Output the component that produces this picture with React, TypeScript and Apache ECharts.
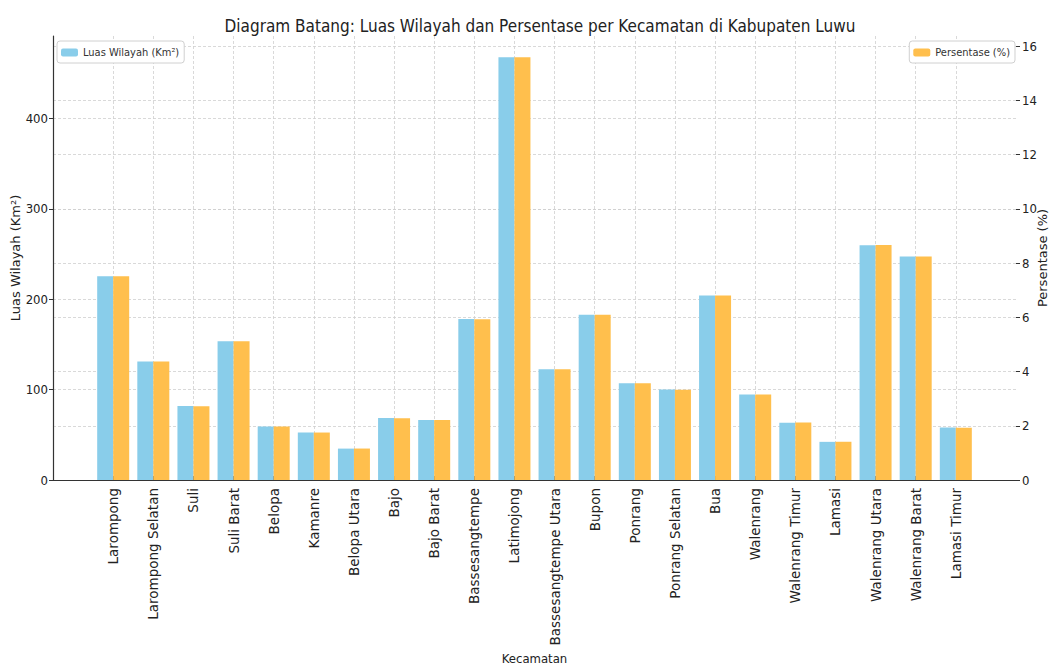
import React, { useEffect, useRef } from "react";
import * as echarts from "echarts";

const categories = [
  "Larompong", "Larompong Selatan", "Suli", "Suli Barat", "Belopa", "Kamanre",
  "Belopa Utara", "Bajo", "Bajo Barat", "Bassesangtempe", "Latimojong",
  "Bassesangtempe Utara", "Bupon", "Ponrang", "Ponrang Selatan", "Bua",
  "Walenrang", "Walenrang Timur", "Lamasi", "Walenrang Utara", "Walenrang Barat",
  "Lamasi Timur",
];

const luasWilayah = [
  225.25, 131.0, 81.75, 153.5, 59.18, 52.55, 34.73, 68.52, 66.3, 178.04, 467.75,
  122.4, 182.67, 107.09, 99.98, 204.01, 94.6, 63.46, 42.2, 259.77, 247.13, 57.98,
];

const persentase = [
  7.51, 4.37, 2.72, 5.12, 1.97, 1.75, 1.16, 2.28, 2.21, 5.93, 15.59,
  4.08, 6.09, 3.57, 3.33, 6.8, 3.15, 2.12, 1.41, 8.66, 8.24, 1.93,
];

const leftTicksMax = 491.14;
const rightTicksMax = 16.37;

const COND = "'DejaVu Sans Condensed', 'Liberation Sans Narrow', 'DejaVu Sans', sans-serif";
const REG = "'DejaVu Sans', sans-serif";

export default function App() {
  const ref = useRef<HTMLDivElement>(null);

  useEffect(() => {
    document.body.style.margin = "0";
    if (!ref.current) return;
    const chart = echarts.init(ref.current, null, { renderer: "svg" });

    // pad one empty slot on each side to reproduce the plot's side margins
    const xCats = ["", ...categories, ""];
    const luasData: (number | string)[] = ["-", ...luasWilayah, "-"];
    const pctData: (number | string)[] = ["-", ...persentase, "-"];
    const isReal = (i: number) => i > 0 && i < xCats.length - 1;

    const gridLine = { show: true, lineStyle: { color: "#cfcfcf", type: [3, 2] as any, width: 0.8 } };

    chart.setOption({
      animation: false,
      backgroundColor: "#ffffff",
      title: {
        text: "Diagram Batang: Luas Wilayah dan Persentase per Kecamatan di Kabupaten Luwu",
        left: 535,
        textAlign: "center",
        top: 12,
        textStyle: { fontFamily: COND, fontSize: 17, fontWeight: "normal", color: "#222" },
      },
      legend: [
        {
          data: ["Luas Wilayah (Km²)"],
          left: 57,
          top: 41,
          padding: [6, 5, 5, 4],
          itemWidth: 17,
          itemHeight: 8,
          borderColor: "#d0d0d0",
          borderWidth: 1,
          borderRadius: 3,
          backgroundColor: "#fff",
          textStyle: { fontFamily: COND, fontSize: 11, color: "#333" },
        },
        {
          data: ["Persentase (%)"],
          right: 37,
          top: 41,
          padding: [6, 5, 5, 4],
          itemWidth: 17,
          itemHeight: 8,
          borderColor: "#d0d0d0",
          borderWidth: 1,
          borderRadius: 3,
          backgroundColor: "#fff",
          textStyle: { fontFamily: COND, fontSize: 11, color: "#333" },
        },
      ],
      grid: { left: 53, right: 36, top: 36, bottom: 187, containLabel: false, outerBoundsMode: "none" } as any,
      xAxis: {
        type: "category",
        data: xCats,
        name: "Kecamatan",
        nameLocation: "middle",
        nameGap: 172,
        nameMoveOverlap: false,
        nameTextStyle: { fontFamily: COND, fontSize: 13, color: "#222" },
        axisLine: { show: true, lineStyle: { color: "#333", width: 1.2 } },
        axisTick: {
          show: true,
          alignWithLabel: true,
          inside: true,
          length: 4,
          interval: (i: number) => isReal(i),
          lineStyle: { color: "#333" },
        },
        axisLabel: {
          rotate: 90,
          interval: (i: number) => isReal(i),
          fontFamily: REG,
          fontSize: 13.5,
          color: "#222",
          margin: 8,
        },
        splitLine: { ...gridLine, alignWithLabel: true, interval: (i: number) => isReal(i) } as any,
      } as any,
      yAxis: [
        {
          type: "value",
          min: 0,
          max: leftTicksMax,
          interval: 100,
          name: "Luas Wilayah (Km²)",
          nameLocation: "middle",
          nameRotate: 90,
          nameGap: 31,
          nameMoveOverlap: false,
          nameTextStyle: { fontFamily: REG, fontSize: 13, color: "#222" },
          axisLine: { show: true, lineStyle: { color: "#333", width: 1.2 } },
          axisTick: { show: true, length: 4, lineStyle: { color: "#333" } },
          axisLabel: { fontFamily: COND, fontSize: 13, color: "#222", margin: 5, showMaxLabel: false },
          splitLine: { ...gridLine, showMaxLine: false },
        },
        {
          type: "value",
          min: 0,
          max: rightTicksMax,
          interval: 2,
          name: "Persentase (%)",
          nameLocation: "middle",
          nameRotate: 90,
          nameGap: 20,
          nameMoveOverlap: false,
          nameTextStyle: { fontFamily: REG, fontSize: 13, color: "#222" },
          axisLine: { show: false },
          axisTick: { show: true, length: 4, lineStyle: { color: "#333" } },
          axisLabel: { fontFamily: COND, fontSize: 13, color: "#222", margin: 6, showMaxLabel: false },
          splitLine: { ...gridLine, showMaxLine: false },
        },
      ] as any,
      series: [
        {
          name: "Luas Wilayah (Km²)",
          type: "bar",
          yAxisIndex: 0,
          data: luasData,
          barWidth: 16,
          barGap: "0%",
          itemStyle: { color: "#89CDEA" },
        },
        {
          name: "Persentase (%)",
          type: "bar",
          yAxisIndex: 1,
          data: pctData,
          barWidth: 16,
          barGap: "0%",
          itemStyle: { color: "#FFBF4D" },
        },
      ],
    });

    return () => chart.dispose();
  }, []);

  return <div ref={ref} style={{ width: 1052, height: 667 }} />;
}
